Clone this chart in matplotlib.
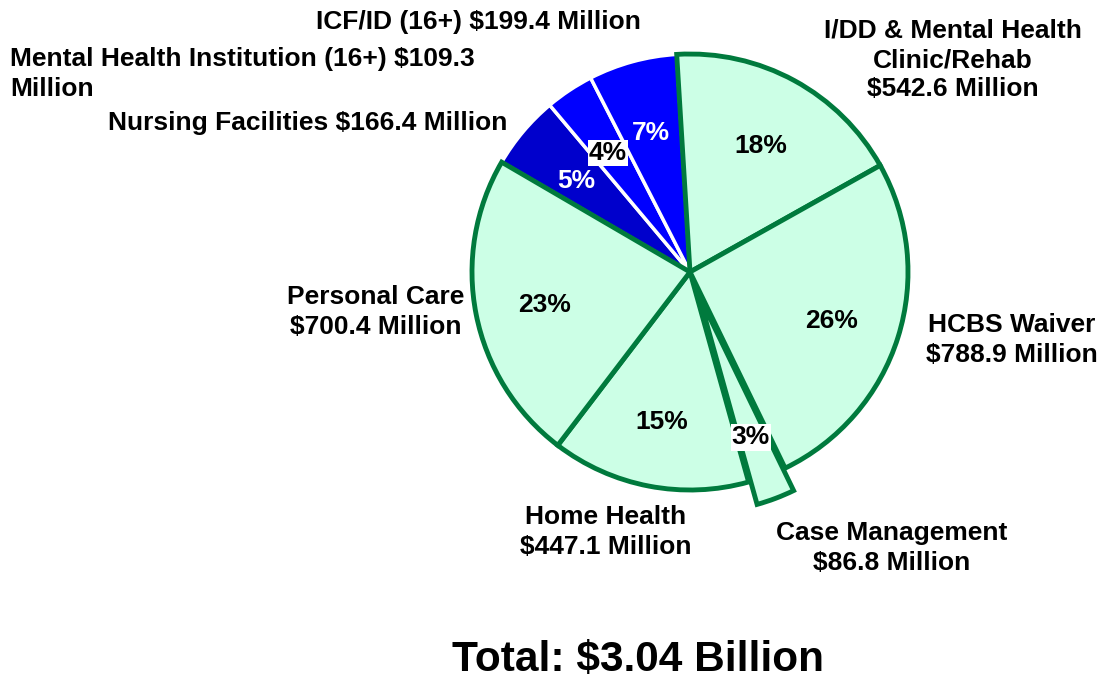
import matplotlib.pyplot as plt

# datos del gráfico
categorias = ["I/DD & Mental Health\nClinic/Rehab\n$542.6 Million",
              "HCBS Waiver\n$788.9 Million",
              "Case Management\n$86.8 Million",
              "Home Health\n$447.1 Million",
              "Personal Care\n$700.4 Million",
              "Nursing Facilities $166.4 Million",
              "Mental Health Institution (16+) $109.3\nMillion",
              "ICF/ID (16+) $199.4 Million"]
valores = [542.6, 788.9, 86.8, 447.1, 700.4, 166.4, 109.3, 199.4]
explotar = [0, 0, 0.11, 0, 0, 0, 0, 0]
colores = ["#CCFFE6", "#CCFFE6", "#CCFFE6", "#CCFFE6", "#CCFFE6",
           "#0000CC", "#0000FF", "#0000FF"]
bordes = ["#007A3D"] * 5 + ["white"] * 3
total_txt = "Total: $3.04 Billion"

plt.rcParams['font.family'] = ['Liberation Sans', 'DejaVu Sans']
plt.rcParams['font.weight'] = 'bold'

W, H = 1100, 679
fig = plt.figure(figsize=(W / 100, H / 100), dpi=100)

# eje del pastel: centro (690, 272) px, radio 218 px
cx, cy, R, lim = 690, 272, 218, 1.2
lado = 2 * lim * R
ax = fig.add_axes([(cx - lim * R) / W, (H - cy - lim * R) / H, lado / W, lado / H])

wedges, textos, pcts = ax.pie(valores, explode=explotar, colors=colores,
                             startangle=93.5, counterclock=False,
                             autopct=lambda p: f"{round(p)}%", pctdistance=0.68,
                             wedgeprops=dict(linewidth=3.5))
for i, w in enumerate(wedges):
    w.set_edgecolor(bordes[i])
    w.set_joinstyle('miter')
    if bordes[i] != "white":
        w.set_zorder(3)
    else:
        w.set_linewidth(2.5)

for i, t in enumerate(pcts):
    t.set_fontsize(19)
    t.set_fontweight('bold')
    t.set_zorder(5)
    x, y = t.get_position()
    t.set_position((x, y - 0.02))
    if i in (5, 7):
        t.set_color('white')
    if i in (2, 6):
        t.set_bbox(dict(facecolor='white', edgecolor='none', pad=1))

ax.set_xlim(-lim, lim)
ax.set_ylim(-lim, lim)
ax.axis('off')

# etiquetas de categorías (posiciones en píxeles)
pos = [(953, 60, 'center'), (1012, 340, 'center'), (892, 548, 'center'),
       (606, 532, 'center'), (376, 312, 'center'), (308, 123, 'center'),
       (10, 74, 'left'), (478, 22, 'center')]
for txt, (x, y, ha) in zip(categorias, pos):
    fig.text(x / W, 1 - y / H, txt, ha=ha, va='center', fontsize=19,
             fontweight='bold', linespacing=1.27, multialignment=ha)

fig.text(638 / W, 1 - 660 / H, total_txt, ha='center', va='center',
         fontsize=30.5, fontweight='bold')

fig.savefig("out.png", dpi=100)
